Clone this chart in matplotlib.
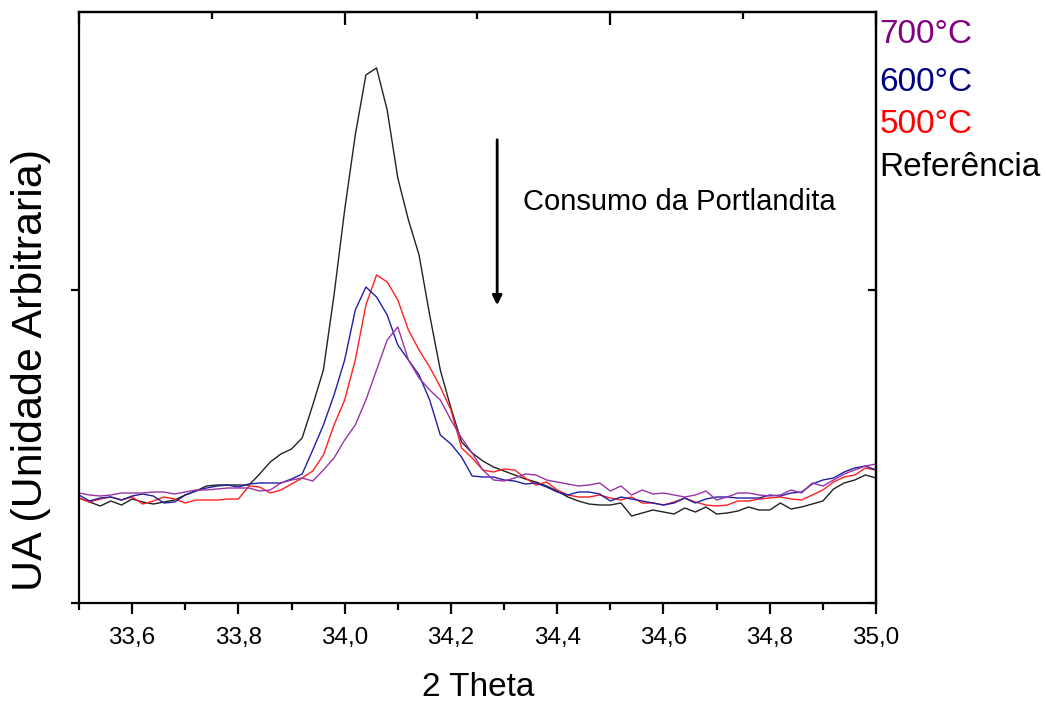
import numpy as np
import matplotlib
matplotlib.use("Agg")
import matplotlib.pyplot as plt
from matplotlib.ticker import MultipleLocator

plt.rcParams['font.family'] = ['Liberation Sans', 'DejaVu Sans']

# 2 theta grid (step 0.02)
two_theta = np.round(np.arange(33.50, 35.001, 0.02), 2)

# intensities (arbitrary units)
ref = [105, 101, 97, 102, 98, 104, 101, 99, 101, 103, 108, 112, 117, 118, 118, 118, 118, 129, 141, 149, 154, 165, 198, 233, 308,
       393, 468, 528, 535, 493, 425, 383, 348, 288, 233, 195, 161, 150, 142, 136, 132, 128, 124, 121, 117, 112, 106, 102, 99, 98,
       98, 100, 87, 90, 93, 91, 89, 95, 91, 96, 89, 90, 92, 96, 93, 93, 100, 94, 96, 99, 102, 114, 120, 123, 128, 125]
t500 = [105, 101, 104, 106, 103, 106, 99, 102, 106, 104, 100, 103, 103, 103, 104, 104, 117, 116, 110, 113, 119, 125, 132, 148, 178,
        203, 243, 298, 328, 321, 303, 273, 253, 236, 216, 193, 155, 145, 133, 131, 134, 133, 125, 118, 121, 113, 108, 106, 106, 108,
        105, 103, 106, 100, 100, 98, 101, 105, 101, 98, 97, 98, 102, 102, 104, 105, 106, 104, 103, 108, 113, 121, 126, 128, 135, 133]
t600 = [108, 102, 105, 106, 103, 107, 109, 107, 100, 101, 108, 112, 115, 117, 118, 116, 119, 120, 120, 120, 124, 129, 153, 178, 208,
        243, 293, 316, 306, 288, 258, 243, 228, 203, 168, 159, 146, 127, 126, 126, 123, 122, 119, 120, 116, 111, 108, 111, 111, 109,
        102, 106, 104, 102, 100, 98, 100, 105, 100, 104, 106, 106, 105, 105, 105, 108, 107, 110, 111, 119, 123, 125, 131, 135, 137, 133]
t700 = [110, 108, 107, 108, 110, 110, 110, 111, 111, 109, 111, 113, 113, 114, 115, 115, 115, 112, 113, 120, 123, 125, 122, 133, 145,
        163, 178, 203, 233, 263, 276, 243, 225, 213, 203, 183, 165, 150, 133, 123, 122, 125, 129, 128, 123, 121, 119, 117, 118, 120,
        112, 117, 108, 113, 109, 110, 108, 106, 108, 112, 103, 106, 110, 110, 108, 107, 108, 113, 110, 120, 117, 123, 129, 133, 137, 139]

labels = ['700°C', '600°C', '500°C', 'Referência']
label_colors = ['#800080', '#000080', '#ff0000', '#000000']

fig = plt.figure(figsize=(10.46, 7.02), dpi=100)
ax = fig.add_axes([0.0755, 0.141, 0.762, 0.842])

ax.plot(two_theta, ref, color='#222222', lw=1.0)
ax.plot(two_theta, t500, color='#ff2020', lw=1.0)
ax.plot(two_theta, t600, color='#2020a0', lw=1.0)
ax.plot(two_theta, t700, color='#9933aa', lw=1.0)

ax.set_xlim(33.5, 35.0)
ax.set_ylim(0, 591)

for s in ax.spines.values():
    s.set_linewidth(1.6)

# bottom / left ticks
ax.xaxis.set_minor_locator(MultipleLocator(0.1))
ax.set_xticks(np.arange(33.6, 35.01, 0.2))
ax.set_xticklabels([f"{v:.1f}".replace('.', ',') for v in np.arange(33.6, 35.01, 0.2)],
                   family=['Liberation Sans Narrow', 'Liberation Sans'], fontsize=17.5)
ax.set_yticks([0, 313])
ax.set_yticklabels([])
ax.tick_params(axis='x', which='major', direction='out', length=8, width=1.6, pad=9)
ax.tick_params(axis='x', which='minor', direction='out', length=5, width=1.6)
ax.tick_params(axis='y', which='major', direction='out', length=6, width=1.6)

# top / right ticks (inward)
top = ax.secondary_xaxis('top')
top.set_xticks([33.5, 34.0, 34.5, 35.0])
top.xaxis.set_minor_locator(MultipleLocator(0.25))
top.set_xticklabels([])
top.tick_params(which='major', direction='in', length=9, width=1.6)
top.tick_params(which='minor', direction='in', length=5, width=1.6)
top.spines['top'].set_linewidth(1.6)

right = ax.secondary_yaxis('right')
right.set_yticks([0, 313])
right.set_yticklabels([])
right.tick_params(direction='in', length=6, width=1.6)
right.spines['right'].set_linewidth(1.6)

# axis titles
fig.text(478 / 1046, 1 - 687 / 702, '2 Theta', fontsize=24, ha='center', va='center')
fig.text(31 / 1046, 1 - 370 / 702, 'UA (Unidade Arbitraria)', fontsize=31,
         rotation=90, ha='center', va='center')

ax.annotate('', xy=(34.287, 295), xytext=(34.287, 466),
            arrowprops=dict(arrowstyle='-|>', color='black', lw=2, mutation_scale=14))
ax.text(34.336, 401, 'Consumo da Portlandita', fontsize=21, va='center', ha='left')

ys = [0.951, 0.883, 0.822, 0.762]
for lab, c, y in zip(labels, label_colors, ys):
    fig.text(0.841, y, lab, color=c, fontsize=24, va='center', ha='left')

fig.savefig('out.png', dpi=100)
